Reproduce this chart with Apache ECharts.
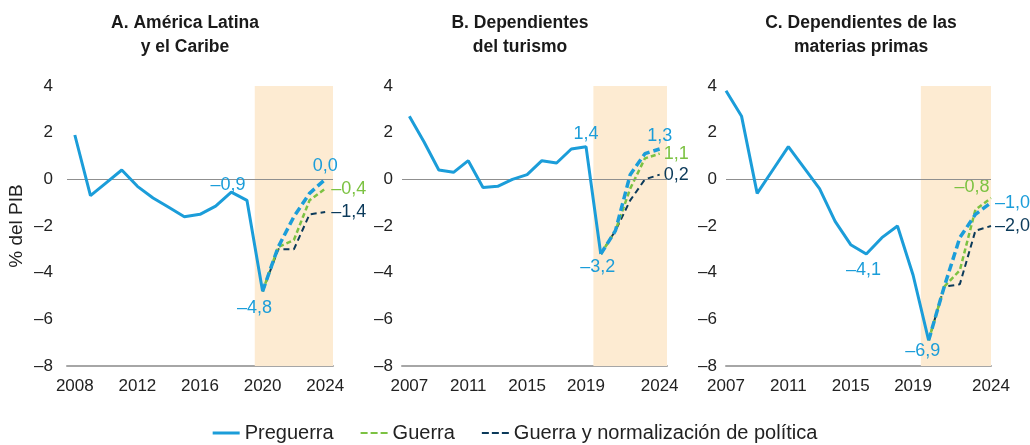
<!DOCTYPE html>
<html>
<head>
<meta charset="utf-8">
<script src="https://cdn.jsdelivr.net/npm/echarts@6/dist/echarts.min.js"></script>
<style>
html, body { margin: 0; padding: 0; background: #fff; }
#grafico { width: 1030px; height: 445px; }
</style>
</head>
<body>
<div id="grafico"></div>
<script>
// anos de cada painel
var anosA = [2008, 2009, 2010, 2011, 2012, 2013, 2014, 2015, 2016, 2017, 2018, 2019, 2020];
var anosBC = [2007, 2008, 2009, 2010, 2011, 2012, 2013, 2014, 2015, 2016, 2017, 2018, 2019, 2020];
var anosProjecao = [2020, 2021, 2022, 2023, 2024];

// A. America Latina y el Caribe
var historicoA = [1.9, -0.7, -0.15, 0.4, -0.3, -0.8, -1.2, -1.6, -1.5, -1.15, -0.55, -0.9, -4.8];
var preguerraA = [-4.8, -2.9, -1.6, -0.6, 0.0];
var guerraA = [-4.8, -2.9, -2.6, -0.9, -0.4];
var normalizacaoA = [-4.8, -3.0, -3.0, -1.5, -1.4];

// B. Dependientes del turismo
var historicoB = [2.7, 1.6, 0.4, 0.3, 0.8, -0.35, -0.3, 0.0, 0.2, 0.8, 0.7, 1.3, 1.4, -3.2];
var preguerraB = [-3.2, -2.2, 0.2, 1.1, 1.3];
var guerraB = [-3.2, -2.2, -0.4, 0.9, 1.1];
var normalizacaoB = [-3.2, -2.2, -0.9, 0.0, 0.2];

// C. Dependientes de las materias primas
var historicoC = [3.8, 2.7, -0.6, 0.4, 1.4, 0.5, -0.4, -1.8, -2.8, -3.2, -2.5, -2.0, -4.1, -6.9];
var preguerraC = [-6.9, -4.6, -2.5, -1.5, -1.0];
var guerraC = [-6.9, -4.6, -3.9, -1.3, -0.8];
var normalizacaoC = [-6.9, -4.6, -4.5, -2.2, -2.0];

var rotulosEixoA = [2008, 2012, 2016, 2020, 2024];
var rotulosEixoBC = [2007, 2011, 2015, 2019, 2024];
var titulos = ['A. América Latina\ny el Caribe', 'B. Dependientes\ndel turismo', 'C. Dependientes de las\nmaterias primas'];
var nomes = ['Preguerra', 'Guerra', 'Guerra y normalización de política'];

var AZUL = '#1b9dd9';
var VERDE = '#7cc242';
var MARINHO = '#0b3a5a';
var FONTE = "'Liberation Sans', Arial, sans-serif";
var TRACEJADO = 'path://M0,0h7v2h-7z M10,0h7v2h-7z M20,0h7v2h-7z';

function formatar(v) {
    var s = Math.abs(v).toFixed(1).replace('.', ',');
    return (v < -0.001 ? '\u2013' : '') + s;
}

function pares(anos, valores) {
    return anos.map(function (a, i) { return [a, valores[i]]; });
}

// coloca rotulo num ponto
function rotular(dados, indice, posicao, deslocamento, cor) {
    dados[indice] = {
        value: dados[indice],
        label: {
            show: true, position: posicao, offset: deslocamento || [0, 0], color: cor,
            fontSize: 18, fontFamily: FONTE, distance: 4,
            formatter: function (p) { return formatar(p.value[1]); }
        }
    };
    return dados;
}

var paineis = [
    { anos: anosA, hist: historicoA, pre: preguerraA, gue: guerraA, nor: normalizacaoA, min: 2007.5, max: 2024.5,
      rotulos: rotulosEixoA, grid: { left: 67, width: 266 }, titulo: 180, margem: 14,
      marcas: { hist: [[11, 'top', [-19, -2]], [12, 'bottom', [-8, 4]]], pre: ['top', [0, 0]], gue: ['right', [2, 0]], nor: ['right', [2, 0]] } },
    { anos: anosBC, hist: historicoB, pre: preguerraB, gue: guerraB, nor: normalizacaoB, min: 2006.5, max: 2024.5,
      rotulos: rotulosEixoBC, grid: { left: 402, width: 265 }, titulo: 515, margem: 9,
      marcas: { hist: [[12, 'top', [0, 0]], [13, 'bottom', [-3, 0]]], pre: ['top', [0, 0]], gue: ['right', [0, 0]], nor: ['right', [0, 0]] } },
    { anos: anosBC, hist: historicoC, pre: preguerraC, gue: guerraC, nor: normalizacaoC, min: 2007, max: 2024,
      rotulos: rotulosEixoBC, grid: { left: 726, width: 265 }, titulo: 856, margem: 9,
      marcas: { hist: [[12, 'left', [-28, -5]], [13, 'bottom', [-6, -2]]], pre: ['right', [0, 0]], gue: ['top', [-19, 2]], nor: ['right', [0, 0]] } }
];

var grids = [], xAxes = [], yAxes = [], series = [], titles = [];

paineis.forEach(function (p, i) {
    grids.push({ left: p.grid.left, width: p.grid.width, top: 86, bottom: 79 });
    titles.push({
        text: titulos[i], left: p.titulo, top: 6, textAlign: 'center',
        textStyle: { fontFamily: FONTE, fontWeight: 'bold', fontSize: 17.5, lineHeight: 24, color: '#1a1a1a' }
    });
    xAxes.push({
        gridIndex: i, type: 'value', min: p.min, max: p.max,
        axisLine: { onZero: false, lineStyle: { color: '#a6a6a6', width: 2 } },
        axisTick: { show: false },
        splitLine: { show: false },
        axisLabel: {
            customValues: p.rotulos, margin: 12, color: '#222', fontSize: 17, fontFamily: FONTE,
            formatter: function (v) { return String(v); }
        }
    });
    yAxes.push({
        gridIndex: i, type: 'value', min: -8, max: 4, interval: 2,
        name: i === 0 ? '% del PIB' : '', nameLocation: 'middle', nameGap: 41, nameRotate: 90,
        nameTextStyle: { fontFamily: FONTE, fontSize: 19, color: '#222' },
        axisLine: { show: false }, axisTick: { show: false }, splitLine: { show: false },
        axisLabel: {
            margin: p.margem, color: '#222', fontSize: 17, fontFamily: FONTE,
            formatter: function (v) { return String(v).replace('-', '\u2013'); }
        }
    });

    var hist = pares(p.anos, p.hist);
    p.marcas.hist.forEach(function (m) { rotular(hist, m[0], m[1], m[2], AZUL); });
    var ult = anosProjecao.length - 1;

    series.push({
        name: nomes[0], type: 'line', xAxisIndex: i, yAxisIndex: i, data: hist,
        symbol: 'circle', symbolSize: 0, lineStyle: { color: AZUL, width: 3 }, itemStyle: { color: AZUL }, z: 5,
        markArea: {
            silent: true, itemStyle: { color: '#fdebd2' },
            data: [[{ xAxis: 2019.5 }, { xAxis: p.max }]]
        },
        markLine: {
            silent: true, symbol: 'none', label: { show: false },
            lineStyle: { color: '#8f8f8f', width: 1, type: 'solid' },
            data: [{ yAxis: 0 }]
        }
    });
    series.push({
        name: nomes[2], type: 'line', xAxisIndex: i, yAxisIndex: i,
        data: rotular(pares(anosProjecao, p.nor), ult, p.marcas.nor[0], p.marcas.nor[1], MARINHO),
        symbol: 'circle', symbolSize: 0, lineStyle: { color: MARINHO, width: 2, type: [6, 4] }, itemStyle: { color: MARINHO }, z: 3
    });
    series.push({
        name: nomes[1], type: 'line', xAxisIndex: i, yAxisIndex: i,
        data: rotular(pares(anosProjecao, p.gue), ult, p.marcas.gue[0], p.marcas.gue[1], VERDE),
        symbol: 'circle', symbolSize: 0, lineStyle: { color: VERDE, width: 2.5, type: [5, 3] }, itemStyle: { color: VERDE }, z: 4
    });
    series.push({
        name: nomes[0], type: 'line', xAxisIndex: i, yAxisIndex: i,
        data: rotular(pares(anosProjecao, p.pre), ult, p.marcas.pre[0], p.marcas.pre[1], AZUL),
        symbol: 'circle', symbolSize: 0, lineStyle: { color: AZUL, width: 3.5, type: [8, 4] }, itemStyle: { color: AZUL }, z: 6
    });
});

var chart = echarts.init(document.getElementById('grafico'), null, { renderer: 'canvas' });
chart.setOption({
    animation: false,
    title: titles,
    grid: grids,
    xAxis: xAxes,
    yAxis: yAxes,
    legend: {
        data: [
            { name: nomes[0], icon: 'rect', itemStyle: { color: AZUL } },
            { name: nomes[1], icon: TRACEJADO, itemStyle: { color: VERDE } },
            { name: nomes[2], icon: TRACEJADO, itemStyle: { color: MARINHO } }
        ],
        top: 418, left: 'center', itemWidth: 27, itemHeight: 3, itemGap: 27,
        textStyle: { fontFamily: FONTE, fontSize: 20, color: '#222' }
    },
    series: series
});
</script>
</body>
</html>
